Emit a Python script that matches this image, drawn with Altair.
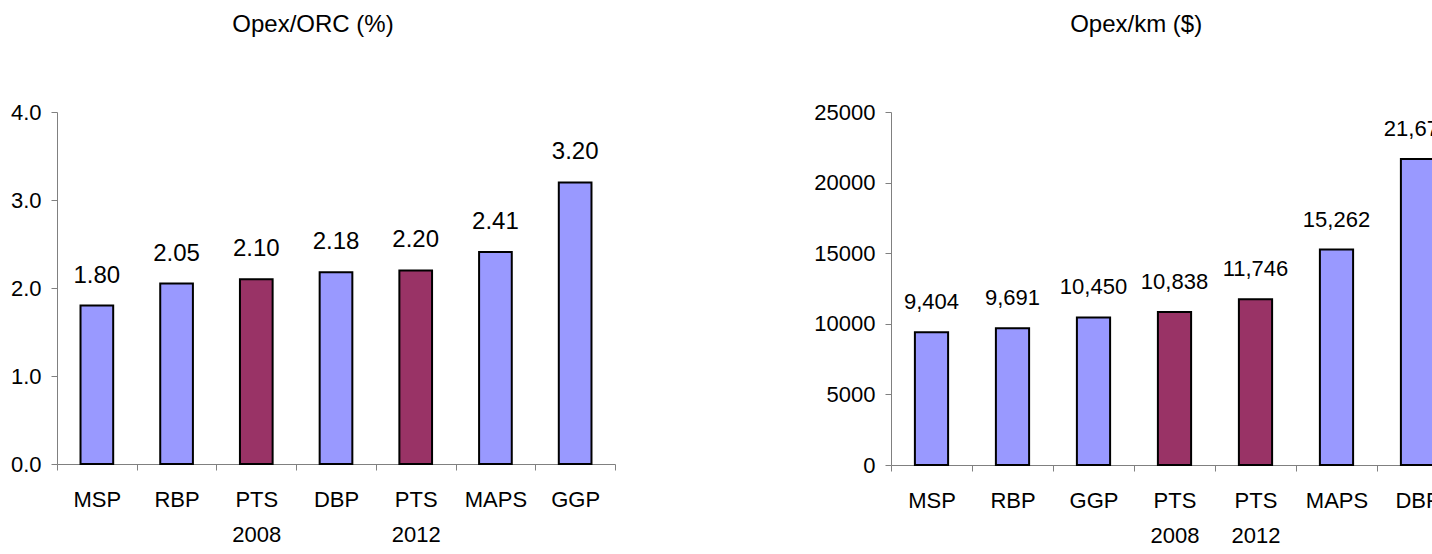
import altair as alt
import pandas as pd

FONT = "Arial, Liberation Sans, sans-serif"
PTS_COLOR = "#993366"
PEER_COLOR = "#9999FF"
AXIS_GRAY = "#808080"

# Opex as a share of ORC (%)
orc_names = ["MSP", "RBP", "PTS 2008", "DBP", "PTS 2012", "MAPS", "GGP"]
orc_values = [1.80, 2.05, 2.10, 2.18, 2.20, 2.41, 3.20]
orc_ticks = [0, 1, 2, 3, 4]

# Opex per km ($)
km_names = ["MSP", "RBP", "GGP", "PTS 2008", "PTS 2012", "MAPS", "DBP"]
km_values = [9404, 9691, 10450, 10838, 11746, 15262, 21672]
km_ticks = [0, 5000, 10000, 15000, 20000, 25000]


def panel(names, values, title, y_max, y_ticks, y_fmt, text_fmt, width, height, label_size):
    df = pd.DataFrame({
        "org": names,
        "value": values,
        "group": ["PTS" if n.startswith("PTS") else "peer" for n in names],
    })
    x_axis = alt.Axis(
        labelAngle=0,
        tickBand="extent",
        labelExpr="split(datum.label, ' ')",
        labelLineHeight=35,
        labelPadding=19,
        tickSize=6,
    )
    x = alt.X("org:N", sort=names, title=None,
              scale=alt.Scale(paddingInner=0, paddingOuter=0), axis=x_axis)
    y = alt.Y("value:Q", title=None,
              scale=alt.Scale(domain=[0, y_max], nice=False),
              axis=alt.Axis(values=y_ticks, format=y_fmt, grid=False,
                            tickSize=6, labelPadding=10))
    bars = alt.Chart(df).mark_bar(
        width=alt.RelativeBandSize(0.41), stroke="black", strokeWidth=2
    ).encode(
        x=x,
        y=y,
        color=alt.Color("group:N",
                        scale=alt.Scale(domain=["PTS", "peer"], range=[PTS_COLOR, PEER_COLOR]),
                        legend=None),
    )
    labels = alt.Chart(df).mark_text(
        baseline="alphabetic", dy=-23, fontSize=label_size, font=FONT, color="black"
    ).encode(
        x=alt.X("org:N", sort=names),
        y=alt.Y("value:Q"),
        text=alt.Text("value:Q", format=text_fmt),
    )
    return (bars + labels).properties(
        width=width,
        height=height,
        title=alt.TitleParams(title, fontSize=24, font=FONT, fontWeight="normal",
                              color="black", offset=64, frame="bounds"),
    )


left = panel(orc_names, orc_values, "Opex/ORC (%)", 4, orc_ticks, ".1f", ".2f", 558, 352, 24)
right = panel(km_names, km_values, "Opex/km ($)", 25000, km_ticks, "d", ",d", 567, 353, 22)

# Fixed 1432x554 canvas: padding places the first plot's origin; the right panel
# runs past the edge and is cut off there.
chart = alt.hconcat(left, right, spacing=197).properties(
    autosize=alt.AutoSizeParams(type="none"),
    padding={"left": 57, "top": 112, "right": 1375, "bottom": 442},
).configure_view(
    stroke=None
).configure_axis(
    domainColor=AXIS_GRAY,
    tickColor=AXIS_GRAY,
    labelColor="black",
    labelFont=FONT,
    labelFontSize=22,
)

chart.save("out.html", embed_options={"renderer": "svg", "actions": False})
